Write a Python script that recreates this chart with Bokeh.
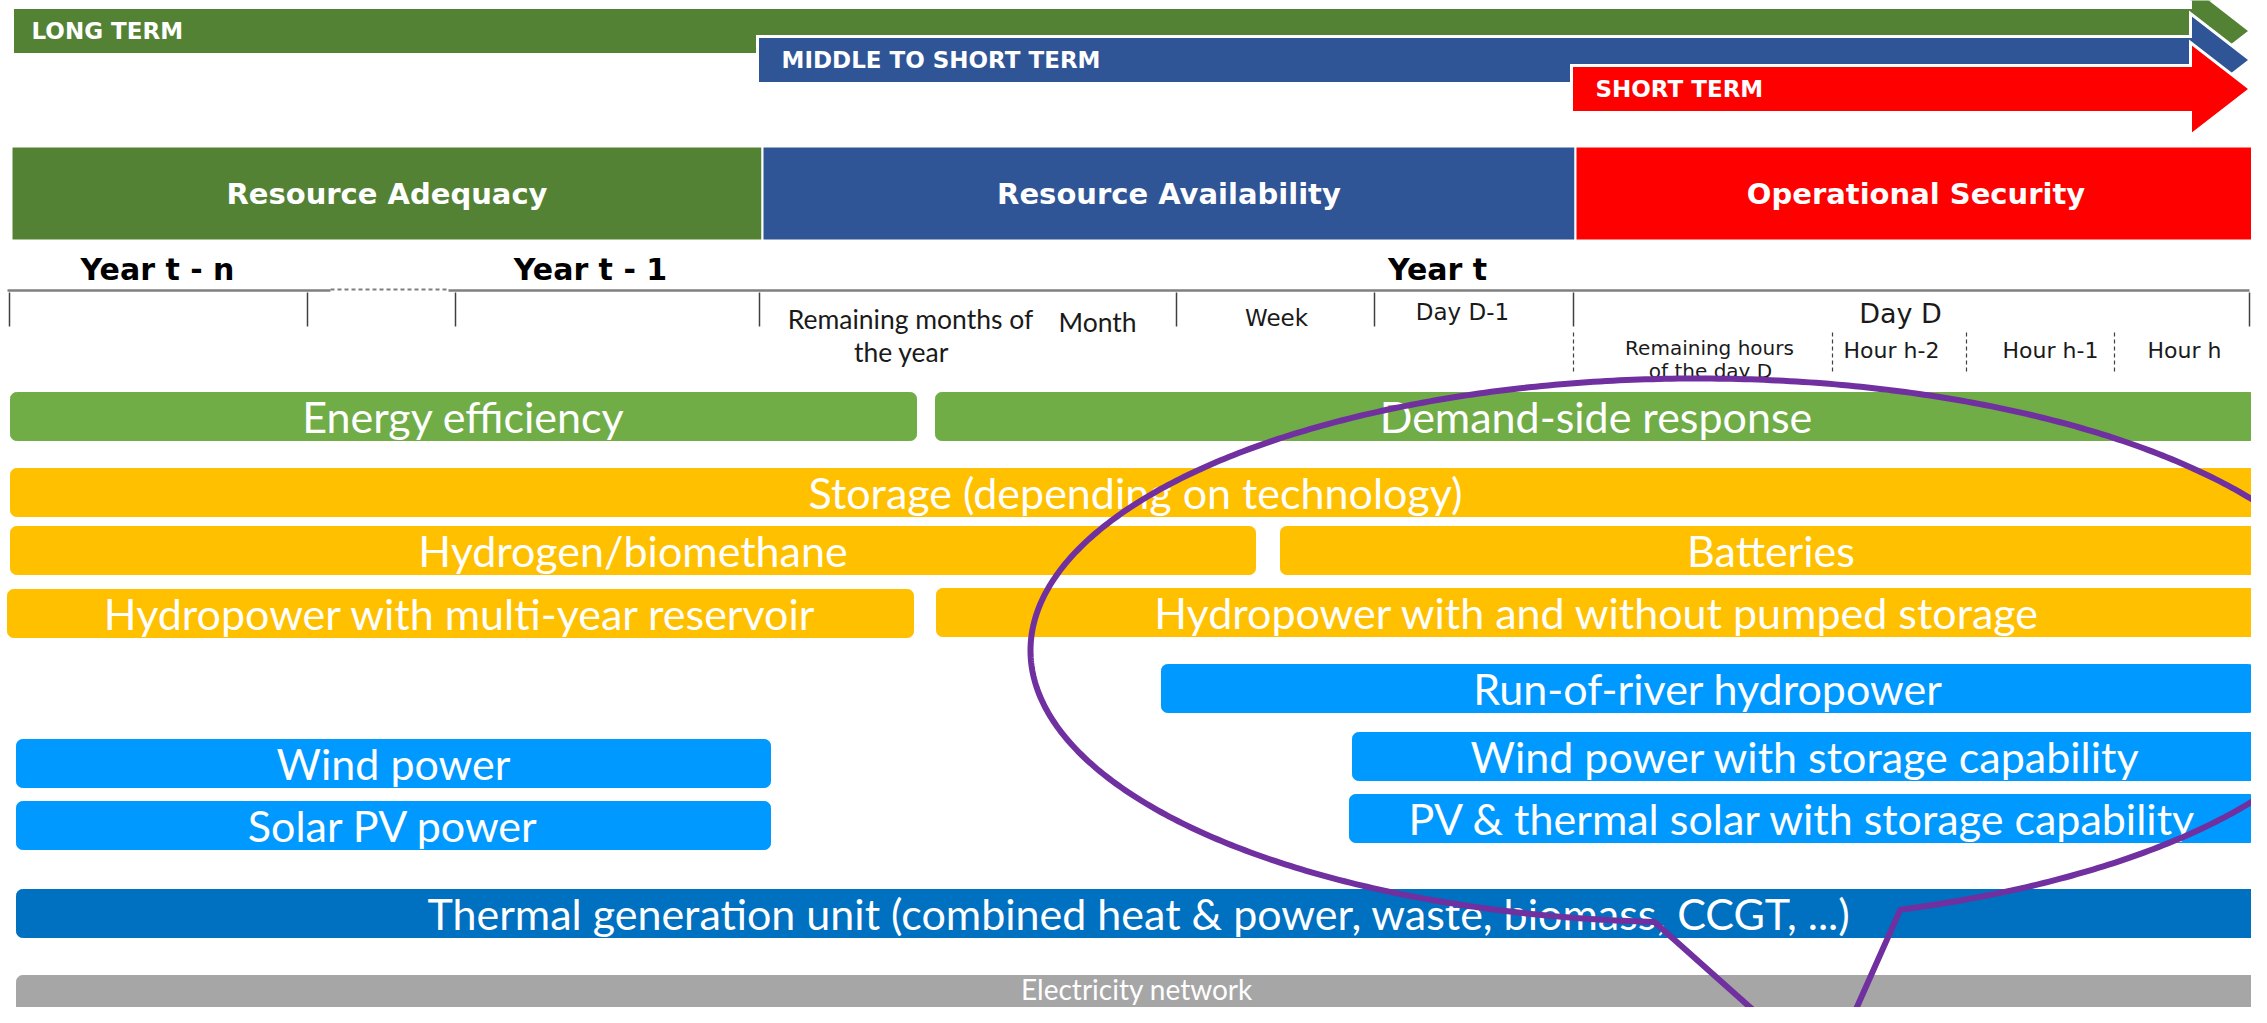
import numpy as np
from bokeh.plotting import figure
from bokeh.models import Range1d, ColumnDataSource
from bokeh.core.properties import value
from bokeh.embed import file_html
from bokeh.resources import INLINE

# ---------------- data ----------------
# horizon arrows (timeline coordinate = horizontal position along the time axis)
phase_labels = ["LONG TERM", "MIDDLE TO SHORT TERM", "SHORT TERM"]
phase_start = [12, 757, 1571]
phase_row = [30.5, 59.5, 88.5]

# section headers
section_labels = ["Resource Adequacy", "Resource Availability", "Operational Security"]
section_bounds = [11, 762, 1575, 2256]

# years
year_labels = ["Year t - n", "Year t - 1", "Year t"]
year_pos = [157, 590, 1437]

# timeline divisions
tick_pos = [9, 307, 455, 759, 1176, 1374, 1573, 2249]
hour_tick_pos = [1573, 1832, 1966, 2114]

# period labels (two type families in the original)
period_a_labels = ["Remaining months of", "the year", "Month"]
period_a_pos = [910, 901, 1097]
period_a_row = [318, 351, 321]
period_b_labels = ["Week", "Day D-1", "Day D", "Remaining hours", "of the day D",
                   "Hour h-2", "Hour h-1", "Hour h"]
period_b_pos = [1276, 1462, 1900, 1709, 1710, 1891, 2050, 2184]
period_b_row = [317, 311, 313, 347, 370, 350, 350, 350]

# flexibility resources
bar_labels = [
    "Energy efficiency", "Demand-side response",
    "Storage (depending on technology)",
    "Hydrogen/biomethane", "Batteries",
    "Hydropower with multi-year reservoir", "Hydropower with and without pumped storage",
    "Run-of-river hydropower",
    "Wind power", "Wind power with storage capability",
    "Solar PV power", "PV & thermal solar with storage capability",
    "Thermal generation unit (combined heat & power, waste, biomass, CCGT, ...)",
    "Electricity network",
]
bar_start = [10, 935, 10, 10, 1280, 7, 936, 1161, 16, 1352, 16, 1349, 16, 16]
bar_end = [916, 2256, 2260, 1255, 2261, 913, 2258, 2254, 770, 2258, 770, 2256, 2261, 2257]
bar_row = [392, 392, 468, 526, 526, 589, 588, 664, 739, 732, 801, 794, 889, 975]
bar_group = ["efficiency", "efficiency", "storage", "storage", "storage", "storage", "storage",
             "variable", "variable", "variable", "variable", "variable", "thermal", "network"]

# highlight bubble
bubble_center = (1697, 650)
bubble_radii = (667, 272)
bubble_gap_deg = (93.7, 432.3)
bubble_tail = (1826, 1075)

# ---------------- styles ----------------
phase_colors = ["#548235", "#2F5597", "#FF0000"]
group_colors = {"efficiency": "#70AD47", "storage": "#FFC000", "variable": "#0099FF",
                "thermal": "#0070C0", "network": "#A6A6A6"}
PURPLE = "#7030A0"
BAR_H = 48

W, H = 2251, 1007
p = figure(width=W, height=H, x_range=Range1d(0, W), y_range=Range1d(H, 0),
           output_backend="svg", toolbar_location=None, min_border=0,
           x_axis_location=None, y_axis_location=None, title=None)
p.grid.visible = False
p.outline_line_color = None
p.background_fill_color = "white"
p.border_fill_color = "white"

# ---- horizon arrows ----
HEAD_X, TIP_X, HALF, HEAD_HALF = 2190, 2250, 23.5, 46.5
axs, ays = [], []
for s, c in zip(phase_start, phase_row):
    axs.append([s, HEAD_X, HEAD_X, TIP_X, HEAD_X, HEAD_X, s])
    ays.append([c - HALF, c - HALF, c - HEAD_HALF, c, c + HEAD_HALF, c + HALF, c + HALF])
p.patches(xs=axs, ys=ays, fill_color=phase_colors, line_color="white", line_width=3,
          line_join="miter")
p.text(x=[s + 19 if i == 0 else s + 24 for i, s in enumerate(phase_start)],
       y=phase_row, text=phase_labels, text_color="white",
       text_font=value("DejaVu Sans"), text_font_style="bold", text_font_size="23px",
       text_align="left", text_baseline="middle")

# ---- section headers ----
p.quad(left=section_bounds[:-1], right=section_bounds[1:], top=[146] * 3, bottom=[240] * 3,
       fill_color=phase_colors, line_color="white", line_width=2)
p.text(x=[(a + b) / 2 for a, b in zip(section_bounds[:-1], section_bounds[1:])], y=[193] * 3,
       text=section_labels, text_color="white", text_font=value("DejaVu Sans"),
       text_font_style="bold", text_font_size="29px", text_align="center",
       text_baseline="middle")

# ---- years ----
p.text(x=year_pos, y=[269] * 3, text=year_labels, text_color="black",
       text_font=value("DejaVu Sans"), text_font_style="bold", text_font_size="30px",
       text_align="center", text_baseline="middle")

# ---- timeline ----
p.segment(x0=[7, 448], y0=[290, 290], x1=[330, tick_pos[-1]], y1=[290, 290],
          line_color="#7F7F7F", line_width=2.5)
p.segment(x0=[330], y0=[289], x1=[448], y1=[289], line_color="#7F7F7F", line_width=2,
          line_dash="4 3")
p.segment(x0=tick_pos, y0=[292] * len(tick_pos), x1=tick_pos, y1=[326] * len(tick_pos),
          line_color="#404040", line_width=1.5)
p.segment(x0=hour_tick_pos, y0=[332] * 4, x1=hour_tick_pos, y1=[373] * 4,
          line_color="#404040", line_width=1.2, line_dash="4 3")

p.text(x=period_a_pos, y=period_a_row, text=period_a_labels, text_color="#1a1a1a",
       text_font=value("Lato"), text_font_size="26.5px", text_align="center",
       text_baseline="middle")
b_sizes = ["23px", "23px", "27px", "20px", "20px", "22px", "22px", "22px"]
pb = ColumnDataSource(dict(x=period_b_pos, y=period_b_row, t=period_b_labels, s=b_sizes))
p.text(x="x", y="y", text="t", text_font_size="s", source=pb, text_color="#1a1a1a",
       text_font=value("DejaVu Sans"), text_align="center", text_baseline="middle")

# ---- resource bars ----
label_y, label_size = [], []
for r in bar_row:
    if r + BAR_H <= H:
        label_y.append(r + BAR_H / 2)
        label_size.append("43px")
    else:  # bar runs past the bottom edge: keep its label inside the visible part
        label_y.append(r + 13)
        label_size.append("28px")
src = ColumnDataSource(dict(
    left=bar_start, right=bar_end, top=bar_row, bottom=[r + BAR_H for r in bar_row],
    cx=[(a + b) / 2 for a, b in zip(bar_start, bar_end)], cy=label_y, fs=label_size,
    color=[group_colors[g] for g in bar_group], label=bar_labels))
p.quad(left="left", right="right", top="top", bottom="bottom", source=src,
       fill_color="color", line_color="color", line_width=1, border_radius=6)
p.text(x="cx", y="cy", text="label", source=src, text_color="white",
       text_font=value("Lato"), text_font_size="fs", text_align="center",
       text_baseline="middle")

# ---- highlight bubble ----
cx, cy = bubble_center
rx, ry = bubble_radii
th = np.deg2rad(np.linspace(bubble_gap_deg[0], bubble_gap_deg[1], 600))
ex = cx + rx * np.cos(th)
ey = cy + ry * np.sin(th)
lx = np.concatenate([[bubble_tail[0]], ex, [bubble_tail[0]]])
ly = np.concatenate([[bubble_tail[1]], ey, [bubble_tail[1]]])
p.line(lx, ly, line_color=PURPLE, line_width=6, line_join="round")

open("out.html", "w").write(file_html(p, INLINE))
